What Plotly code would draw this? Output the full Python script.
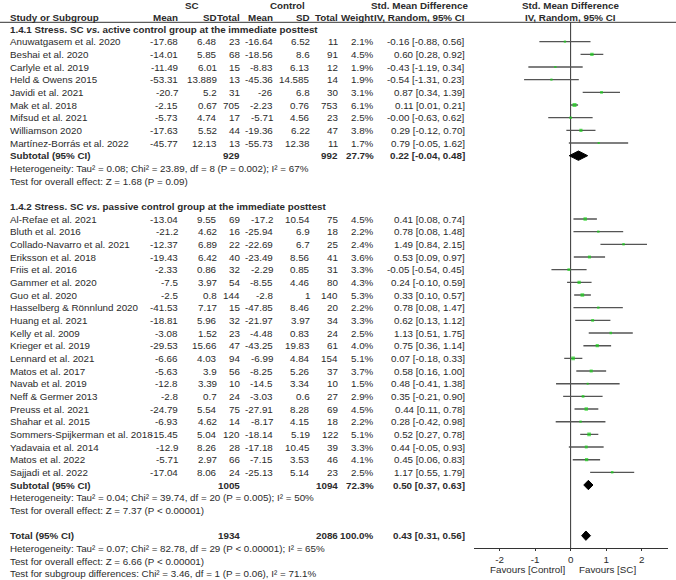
import plotly.graph_objects as go

W, H = 676, 580

# ---------------- data ----------------
g1_title = "1.4.1 Stress. SC <i>vs.</i> active control group at the immediate posttest"
g1_study = ["Anuwatgasem et al. 2020", "Beshai et al. 2020", "Carlyle et al. 2019",
            "Held & Owens 2015", "Javidi et al. 2021", "Mak et al. 2018",
            "Mifsud et al. 2021", "Williamson 2020", "Martínez-Borrás et al. 2022"]
g1_sc_mean = [-17.68, -14.01, -11.49, -53.31, -20.7, -2.15, -5.73, -17.63, -45.77]
g1_sc_sd = [6.48, 5.85, 6.01, 13.889, 5.2, 0.67, 4.74, 5.52, 12.13]
g1_sc_n = [23, 68, 15, 13, 31, 705, 17, 44, 13]
g1_ct_mean = [-16.64, -18.56, -8.83, -45.36, -26, -2.23, -5.71, -19.36, -55.73]
g1_ct_sd = [6.52, 8.6, 6.13, 14.585, 6.8, 0.76, 4.56, 6.22, 12.38]
g1_ct_n = [11, 91, 12, 14, 30, 753, 23, 47, 11]
g1_weight = [2.1, 4.5, 1.9, 1.9, 3.1, 6.1, 2.5, 3.8, 1.7]
g1_smd = [-0.16, 0.60, -0.43, -0.54, 0.87, 0.11, -0.0, 0.29, 0.79]
g1_lo = [-0.88, 0.28, -1.19, -1.31, 0.34, 0.01, -0.63, -0.12, -0.05]
g1_hi = [0.56, 0.92, 0.34, 0.23, 1.39, 0.21, 0.62, 0.70, 1.62]
g1_sub = dict(sc_n=929, ct_n=992, weight=27.7, smd=0.22, lo=-0.04, hi=0.48)
g1_het = "Heterogeneity: Tau² = 0.08; Chi² = 23.89, df = 8 (P = 0.002); I² = 67%"
g1_test = "Test for overall effect: Z = 1.68 (P = 0.09)"

g2_title = "1.4.2 Stress. SC <i>vs.</i> passive control group at the immediate posttest"
g2_study = ["Al-Refae et al. 2021", "Bluth et al. 2016", "Collado-Navarro et al. 2021",
            "Eriksson et al. 2018", "Friis et al. 2016", "Gammer et al. 2020",
            "Guo et al. 2020", "Hasselberg & Rönnlund 2020", "Huang et al. 2021",
            "Kelly et al. 2009", "Krieger et al. 2019", "Lennard et al. 2021",
            "Matos et al. 2017", "Navab et al. 2019", "Neff & Germer 2013",
            "Preuss et al. 2021", "Shahar et al. 2015", "Sommers-Spijkerman et al. 2018",
            "Yadavaia et al. 2014", "Matos et al. 2022", "Sajjadi et al. 2022"]
g2_sc_mean = [-13.04, -21.2, -12.37, -19.43, -2.33, -7.5, -2.5, -41.53, -18.81, -3.08,
              -29.53, -6.66, -5.63, -12.8, -2.8, -24.79, -6.93, -15.45, -12.9, -5.71, -17.04]
g2_sc_sd = [9.55, 4.62, 6.89, 6.42, 0.86, 3.97, 0.8, 7.17, 5.96, 1.52,
            15.66, 4.03, 3.9, 3.39, 0.7, 5.54, 4.62, 5.04, 8.26, 2.97, 8.06]
g2_sc_n = [69, 16, 22, 40, 32, 54, 144, 15, 32, 23, 47, 94, 56, 10, 24, 75, 14, 120, 28, 66, 24]
g2_ct_mean = [-17.2, -25.94, -22.69, -23.49, -2.29, -8.55, -2.8, -47.85, -21.97, -4.48,
              -43.25, -6.99, -8.25, -14.5, -3.03, -27.91, -8.17, -18.14, -17.18, -7.15, -25.13]
g2_ct_sd = [10.54, 6.9, 6.7, 8.56, 0.85, 4.46, 1, 8.46, 3.97, 0.83,
            19.83, 4.84, 5.26, 3.34, 0.6, 8.28, 4.15, 5.19, 10.45, 3.53, 5.14]
g2_ct_n = [75, 18, 25, 41, 31, 80, 140, 20, 34, 24, 61, 154, 37, 10, 27, 69, 18, 122, 39, 46, 23]
g2_weight = [4.5, 2.2, 2.4, 3.6, 3.3, 4.3, 5.3, 2.2, 3.3, 2.5, 4.0, 5.1, 3.7, 1.5, 2.9,
             4.5, 2.2, 5.1, 3.3, 4.1, 2.5]
g2_smd = [0.41, 0.78, 1.49, 0.53, -0.05, 0.24, 0.33, 0.78, 0.62, 1.13, 0.75, 0.07, 0.58,
          0.48, 0.35, 0.44, 0.28, 0.52, 0.44, 0.45, 1.17]
g2_lo = [0.08, 0.08, 0.84, 0.09, -0.54, -0.10, 0.10, 0.08, 0.13, 0.51, 0.36, -0.18, 0.16,
         -0.41, -0.21, 0.11, -0.42, 0.27, -0.05, 0.06, 0.55]
g2_hi = [0.74, 1.48, 2.15, 0.97, 0.45, 0.59, 0.57, 1.47, 1.12, 1.75, 1.14, 0.33, 1.00,
         1.38, 0.90, 0.78, 0.98, 0.78, 0.93, 0.83, 1.79]
g2_sub = dict(sc_n=1005, ct_n=1094, weight=72.3, smd=0.50, lo=0.37, hi=0.63)
g2_het = "Heterogeneity: Tau² = 0.04; Chi² = 39.74, df = 20 (P = 0.005); I² = 50%"
g2_test = "Test for overall effect: Z = 7.37 (P < 0.00001)"

total = dict(sc_n=1934, ct_n=2086, weight=100.0, smd=0.43, lo=0.31, hi=0.56)
total_het = "Heterogeneity: Tau² = 0.07; Chi² = 82.78, df = 29 (P < 0.00001); I² = 65%"
total_test = "Test for overall effect: Z = 6.66 (P < 0.00001)"
subgroup_test = "Test for subgroup differences: Chi² = 3.46, df = 1 (P = 0.06), I² = 71.1%"

x_tick_vals = [-2, -1, 0, 1, 2]
x_tick_text = ["-2", "-1", "0", "1", "2"]
favours_left = "Favours [Control]"
favours_right = "Favours [SC]"

# ---------------- layout constants (pixels) ----------------
FONT = "Liberation Sans, Arial, sans-serif"
FS = 9.8         # body text
FSB = 9.8        # bold numbers / column headers
TXT = "#2b2b2b"
ROW0_PX = 29.0
ROW_PX = 12.667
COLS = dict(study=7.5, sc_mean=180, sc_sd=218.5, sc_n=242.5, ct_mean=275, ct_sd=311.5,
            ct_n=340, weight=376, ci=466.5)
PLOT_L, PLOT_R = 474, 668.3
X_MIN, X_MAX = -2.72, 2.75
AXIS_PX = 548.3
HEAD_LINE_PX = 22.3

y_top = -ROW0_PX / ROW_PX
y_bot = (H - ROW0_PX) / ROW_PX


def px(x):
    return x / W


def py(y):
    return 1 - y / H


def g(v):
    return f"{v:g}"


annotations = []


def txt(col_px, row, text, anchor="right", bold=False, size=None):
    annotations.append(dict(
        x=px(col_px), xref="paper", y=row, yref="y", text=(f"<b>{text}</b>" if bold else text),
        showarrow=False, xanchor=anchor, yanchor="middle",
        font=dict(family=FONT, size=size or (FSB if bold else FS), color=TXT)))


def head(x_px, y_px, text, anchor, size=FSB):
    annotations.append(dict(
        x=px(x_px), xref="paper", y=py(y_px), yref="paper", text=f"<b>{text}</b>",
        showarrow=False, xanchor=anchor, yanchor="middle",
        font=dict(family=FONT, size=size, color=TXT)))


# headers
head(192, 5.5, "SC", "center", FS)
head(287, 5.5, "Control", "center", FS)
head(420, 5.5, "Std. Mean Difference", "center", FS)
head(570, 5.5, "Std. Mean Difference", "center", FS)
head(COLS["study"], 17, "Study or Subgroup", "left", FS)
for key, lab in [("sc_mean", "Mean"), ("sc_sd", "SD"), ("sc_n", "Total"), ("ct_mean", "Mean"),
                 ("ct_sd", "SD"), ("ct_n", "Total"), ("weight", "Weight")]:
    head(COLS[key], 17, lab, "right")
head(420, 17, "IV, Random, 95% CI", "center", FS)
head(570, 17, "IV, Random, 95% CI", "center", FS)

traces = []
diamonds = []


def pooled(r, label, d):
    txt(COLS["study"], r, label, "left", bold=True, size=FS)
    txt(COLS["sc_n"], r, g(d["sc_n"]), bold=True)
    txt(COLS["ct_n"], r, g(d["ct_n"]), bold=True)
    txt(COLS["weight"], r, f"{d['weight']:.1f}%", bold=True)
    txt(COLS["ci"], r, f"{d['smd']:.2f} [{d['lo']:.2f}, {d['hi']:.2f}]", bold=True)
    hh = 0.37
    diamonds.append(go.Scatter(
        x=[d["lo"], d["smd"], d["hi"], d["smd"], d["lo"]],
        y=[r, r - hh, r, r + hh, r], mode="lines", fill="toself",
        fillcolor="black", line=dict(color="black", width=1), hoverinfo="skip"))


def group(start, title, study, scm, scs, scn, ctm, cts, ctn, wt, smd, lo, hi, sub, het, test):
    txt(COLS["study"], start, title, "left", bold=True, size=FS)
    rows = []
    for i in range(len(study)):
        r = start + 1 + i
        rows.append(r)
        txt(COLS["study"], r, study[i], "left")
        txt(COLS["sc_mean"], r, g(scm[i]))
        txt(COLS["sc_sd"], r, g(scs[i]))
        txt(COLS["sc_n"], r, g(scn[i]))
        txt(COLS["ct_mean"], r, g(ctm[i]))
        txt(COLS["ct_sd"], r, g(cts[i]))
        txt(COLS["ct_n"], r, g(ctn[i]))
        txt(COLS["weight"], r, f"{wt[i]:.1f}%")
        txt(COLS["ci"], r, f"{smd[i]:.2f} [{lo[i]:.2f}, {hi[i]:.2f}]")
    traces.append(go.Scatter(
        x=smd, y=rows, mode="markers",
        marker=dict(symbol="square", color="#19d119", size=[1.6 * w ** 0.5 for w in wt],
                    line=dict(width=0)),
        error_x=dict(type="data", symmetric=False,
                     array=[h - s for h, s in zip(hi, smd)],
                     arrayminus=[s - l for s, l in zip(smd, lo)],
                     color="#555555", thickness=1.4, width=0),
        hoverinfo="skip"))
    rs = start + 1 + len(study)
    pooled(rs, "Subtotal (95% CI)", sub)
    txt(COLS["study"], rs + 1, het, "left")
    txt(COLS["study"], rs + 2, test, "left")
    return rs + 2


end1 = group(0, g1_title, g1_study, g1_sc_mean, g1_sc_sd, g1_sc_n, g1_ct_mean, g1_ct_sd,
             g1_ct_n, g1_weight, g1_smd, g1_lo, g1_hi, g1_sub, g1_het, g1_test)
end2 = group(end1 + 2, g2_title, g2_study, g2_sc_mean, g2_sc_sd, g2_sc_n, g2_ct_mean, g2_ct_sd,
             g2_ct_n, g2_weight, g2_smd, g2_lo, g2_hi, g2_sub, g2_het, g2_test)
rt = end2 + 2
pooled(rt, "Total (95% CI)", total)
txt(COLS["study"], rt + 1, total_het, "left")
txt(COLS["study"], rt + 2, total_test, "left")
txt(COLS["study"], rt + 3, subgroup_test, "left")

# favours labels
annotations.append(dict(x=px(567), xref="paper", y=py(569.5), yref="paper", text=favours_left,
                        showarrow=False, xanchor="right", yanchor="middle",
                        font=dict(family=FONT, size=FS, color=TXT)))
annotations.append(dict(x=px(576.5), xref="paper", y=py(569.5), yref="paper", text=favours_right,
                        showarrow=False, xanchor="left", yanchor="middle",
                        font=dict(family=FONT, size=FS, color=TXT)))

fig = go.Figure(diamonds + traces)

shapes = [
    dict(type="line", xref="paper", yref="paper", x0=0, x1=1, y0=py(HEAD_LINE_PX),
         y1=py(HEAD_LINE_PX), line=dict(color="#333333", width=1)),
    dict(type="line", xref="x", yref="paper", x0=0, x1=0, y0=py(AXIS_PX), y1=py(HEAD_LINE_PX),
         line=dict(color="#333333", width=1), layer="below"),
]

fig.update_layout(
    width=W, height=H, margin=dict(l=0, r=0, t=0, b=0),
    paper_bgcolor="white", plot_bgcolor="white", showlegend=False,
    font=dict(family=FONT, size=FS, color=TXT),
    annotations=annotations, shapes=shapes,
    xaxis=dict(domain=[px(PLOT_L), px(PLOT_R)], range=[X_MIN, X_MAX], anchor="free",
               position=py(AXIS_PX), showline=True, linecolor="#333333", linewidth=1,
               ticks="outside", ticklen=2, tickcolor="#333333", tickwidth=1,
               tickvals=x_tick_vals, ticktext=x_tick_text, showgrid=False, zeroline=False,
               tickfont=dict(family=FONT, size=FS, color=TXT), fixedrange=True),
    yaxis=dict(domain=[0, 1], range=[y_bot, y_top], visible=False, fixedrange=True),
)

fig.write_html("out.html", config={"displayModeBar": False},
               post_script="document.body.style.margin='0px';document.body.style.padding='0px';")
